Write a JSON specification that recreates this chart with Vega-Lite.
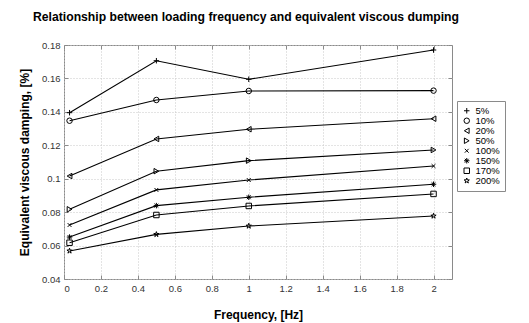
{
  "$schema": "https://vega.github.io/schema/vega-lite/v6.json",
  "autosize": "none",
  "width": 388,
  "height": 234,
  "padding": {"left": 64, "top": 45, "right": 77, "bottom": 44},
  "background": "white",
  "title": {
    "text": "Relationship between loading frequency and equivalent viscous  dumping",
    "anchor": "start",
    "frame": "group",
    "dx": -31,
    "offset": 17,
    "fontSize": 12.2,
    "fontWeight": "bold",
    "font": "Liberation Sans",
    "color": "black"
  },
  "config": {
    "font": "Liberation Sans",
    "view": {"stroke": "#8a8a8a", "strokeWidth": 1},
    "axis": {
      "labelFont": "Liberation Sans",
      "labelFontSize": 9.5,
      "labelColor": "#333333",
      "titleFont": "Liberation Sans",
      "titleFontSize": 12,
      "titleFontWeight": "bold",
      "titleColor": "black",
      "domain": false,
      "tickColor": "#8a8a8a",
      "tickSize": -4,
      "labelPadding": 8,
      "gridColor": "#c8c8c8",
      "gridDash": [1, 2],
      "gridWidth": 1
    }
  },
  "data": {
    "values": [
      {"freq": 0.03, "damp": 0.1395, "amp": "5%"},
      {"freq": 0.5, "damp": 0.1706, "amp": "5%"},
      {"freq": 1, "damp": 0.1595, "amp": "5%"},
      {"freq": 2, "damp": 0.177, "amp": "5%"},
      {"freq": 0.03, "damp": 0.1347, "amp": "10%"},
      {"freq": 0.5, "damp": 0.1471, "amp": "10%"},
      {"freq": 1, "damp": 0.1525, "amp": "10%"},
      {"freq": 2, "damp": 0.1527, "amp": "10%"},
      {"freq": 0.03, "damp": 0.1016, "amp": "20%"},
      {"freq": 0.5, "damp": 0.1238, "amp": "20%"},
      {"freq": 1, "damp": 0.1296, "amp": "20%"},
      {"freq": 2, "damp": 0.1359, "amp": "20%"},
      {"freq": 0.03, "damp": 0.0817, "amp": "50%"},
      {"freq": 0.5, "damp": 0.1045, "amp": "50%"},
      {"freq": 1, "damp": 0.1108, "amp": "50%"},
      {"freq": 2, "damp": 0.1172, "amp": "50%"},
      {"freq": 0.03, "damp": 0.0723, "amp": "100%"},
      {"freq": 0.5, "damp": 0.0933, "amp": "100%"},
      {"freq": 1, "damp": 0.0992, "amp": "100%"},
      {"freq": 2, "damp": 0.1076, "amp": "100%"},
      {"freq": 0.03, "damp": 0.0651, "amp": "150%"},
      {"freq": 0.5, "damp": 0.0839, "amp": "150%"},
      {"freq": 1, "damp": 0.0889, "amp": "150%"},
      {"freq": 2, "damp": 0.0967, "amp": "150%"},
      {"freq": 0.03, "damp": 0.0617, "amp": "170%"},
      {"freq": 0.5, "damp": 0.0783, "amp": "170%"},
      {"freq": 1, "damp": 0.0837, "amp": "170%"},
      {"freq": 2, "damp": 0.0909, "amp": "170%"},
      {"freq": 0.03, "damp": 0.0568, "amp": "200%"},
      {"freq": 0.5, "damp": 0.0667, "amp": "200%"},
      {"freq": 1, "damp": 0.0717, "amp": "200%"},
      {"freq": 2, "damp": 0.0777, "amp": "200%"}
    ]
  },
  "layer": [
    {
      "mark": {"type": "line", "color": "black", "strokeWidth": 1.1},
      "encoding": {
        "x": {
          "field": "freq", "type": "quantitative",
          "scale": {"domain": [0, 2.1], "nice": false, "zero": false},
          "axis": {"values": [0, 0.2, 0.4, 0.6, 0.8, 1, 1.2, 1.4, 1.6, 1.8, 2], "format": "~g", "title": "Frequency, [Hz]", "titlePadding": 17, "grid": true}
        },
        "y": {
          "field": "damp", "type": "quantitative",
          "scale": {"domain": [0.04, 0.18], "nice": false, "zero": false},
          "axis": {"values": [0.04, 0.06, 0.08, 0.1, 0.12, 0.14, 0.16, 0.18], "format": ".2~f", "title": "Equivalent viscous damping, [%]", "titlePadding": 10, "grid": true}
        },
        "detail": {"field": "amp"}
      }
    },
    {
      "mark": {"type": "point", "filled": false, "color": "black", "strokeWidth": 1, "size": 30, "opacity": 1},
      "encoding": {
        "x": {
          "field": "freq", "type": "quantitative",
          "axis": {"orient": "top", "values": [0, 0.2, 0.4, 0.6, 0.8, 1, 1.2, 1.4, 1.6, 1.8, 2], "labels": false, "title": null, "grid": false}
        },
        "y": {
          "field": "damp", "type": "quantitative",
          "axis": {"orient": "right", "values": [0.04, 0.06, 0.08, 0.1, 0.12, 0.14, 0.16, 0.18], "labels": false, "title": null, "grid": false}
        },
        "shape": {
          "field": "amp", "type": "nominal",
          "scale": {
            "domain": ["5%", "10%", "20%", "50%", "100%", "150%", "170%", "200%"],
            "range": [
              "M-1,0L1,0M0,-1L0,1",
              "circle",
              "triangle-left",
              "triangle-right",
              "M-0.7,-0.7L0.7,0.7M-0.7,0.7L0.7,-0.7",
              "M-1,0L1,0M0,-1L0,1M-0.7,-0.7L0.7,0.7M-0.7,0.7L0.7,-0.7",
              "square",
              "M0,-1L0.225,-0.309L0.951,-0.309L0.363,0.118L0.588,0.809L0,0.382L-0.588,0.809L-0.363,0.118L-0.951,-0.309L-0.225,-0.309Z"
            ]
          },
          "legend": {
            "title": null,
            "orient": "none",
            "legendX": 393,
            "legendY": 56,
            "strokeColor": "#8a8a8a",
            "fillColor": "white",
            "padding": 5,
            "rowPadding": -2,
            "symbolSize": 30,
            "symbolStrokeColor": "black",
            "symbolFillColor": "transparent",
            "symbolStrokeWidth": 1,
            "labelFontSize": 9.5,
            "labelFont": "Liberation Sans",
            "labelColor": "black"
          }
        }
      }
    }
  ],
  "resolve": {"axis": {"x": "independent", "y": "independent"}}
}
